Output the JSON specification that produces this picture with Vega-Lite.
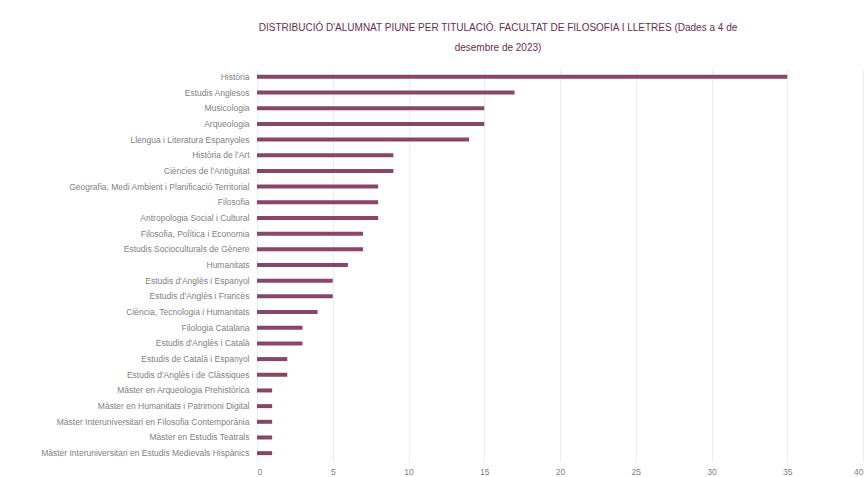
{
  "$schema": "https://vega.github.io/schema/vega-lite/v6.json",
  "width": 606,
  "height": 392,
  "autosize": {"type": "none"},
  "padding": {"left": 257, "top": 69, "right": 4, "bottom": 16},
  "background": "white",
  "title": {
    "text": ["DISTRIBUCIÓ D'ALUMNAT PIUNE PER TITULACIÓ. FACULTAT DE FILOSOFIA I LLETRES (Dades a 4 de", "desembre de 2023)"],
    "anchor": "middle",
    "dx": -62,
    "offset": 16,
    "font": "Liberation Sans",
    "fontSize": 10,
    "fontWeight": "normal",
    "color": "#6b2c4c",
    "lineHeight": 20
  },
  "data": {
    "values": [
      {"titulacio": "Història", "alumnes": 35},
      {"titulacio": "Estudis Anglesos", "alumnes": 17},
      {"titulacio": "Musicologia", "alumnes": 15},
      {"titulacio": "Arqueologia", "alumnes": 15},
      {"titulacio": "Llengua i Literatura Espanyoles", "alumnes": 14},
      {"titulacio": "Història de l'Art", "alumnes": 9},
      {"titulacio": "Ciències de l'Antiguitat", "alumnes": 9},
      {"titulacio": "Geografia, Medi Ambient i Planificació Territorial", "alumnes": 8},
      {"titulacio": "Filosofia", "alumnes": 8},
      {"titulacio": "Antropologia Social i Cultural", "alumnes": 8},
      {"titulacio": "Filosofia, Política i Economia", "alumnes": 7},
      {"titulacio": "Estudis Socioculturals de Gènere", "alumnes": 7},
      {"titulacio": "Humanitats", "alumnes": 6},
      {"titulacio": "Estudis d'Anglès i Espanyol", "alumnes": 5},
      {"titulacio": "Estudis d'Anglès i Francès", "alumnes": 5},
      {"titulacio": "Ciència, Tecnologia i Humanitats", "alumnes": 4},
      {"titulacio": "Filologia Catalana", "alumnes": 3},
      {"titulacio": "Estudis d'Anglès i Català", "alumnes": 3},
      {"titulacio": "Estudis de Català i Espanyol", "alumnes": 2},
      {"titulacio": "Estudis d'Anglès i de Clàssiques", "alumnes": 2},
      {"titulacio": "Màster en Arqueologia Prehistòrica", "alumnes": 1},
      {"titulacio": "Màster en Humanitats i Patrimoni Digital", "alumnes": 1},
      {"titulacio": "Màster Interuniversitari en Filosofia Contemporània", "alumnes": 1},
      {"titulacio": "Màster en Estudis Teatrals", "alumnes": 1},
      {"titulacio": "Màster Interuniversitari en Estudis Medievals Hispànics", "alumnes": 1}
    ]
  },
  "mark": {"type": "bar", "size": 4, "color": "#8a4668"},
  "encoding": {
    "y": {
      "field": "titulacio",
      "type": "nominal",
      "sort": null,
      "title": null,
      "axis": {
        "ticks": false,
        "domain": false,
        "labelFont": "Liberation Sans",
        "labelFontSize": 8.5,
        "labelColor": "#7f7f7f",
        "labelPadding": 8,
        "labelLimit": 260
      }
    },
    "x": {
      "field": "alumnes",
      "type": "quantitative",
      "title": null,
      "scale": {"domain": [0, 40]},
      "axis": {
        "values": [0, 5, 10, 15, 20, 25, 30, 35, 40],
        "ticks": false,
        "domain": false,
        "grid": true,
        "gridColor": "#ececec",
        "labelFont": "Liberation Sans",
        "labelFontSize": 8.5,
        "labelColor": "#7f7f7f",
        "labelPadding": 6
      }
    }
  },
  "config": {"view": {"stroke": null}}
}
